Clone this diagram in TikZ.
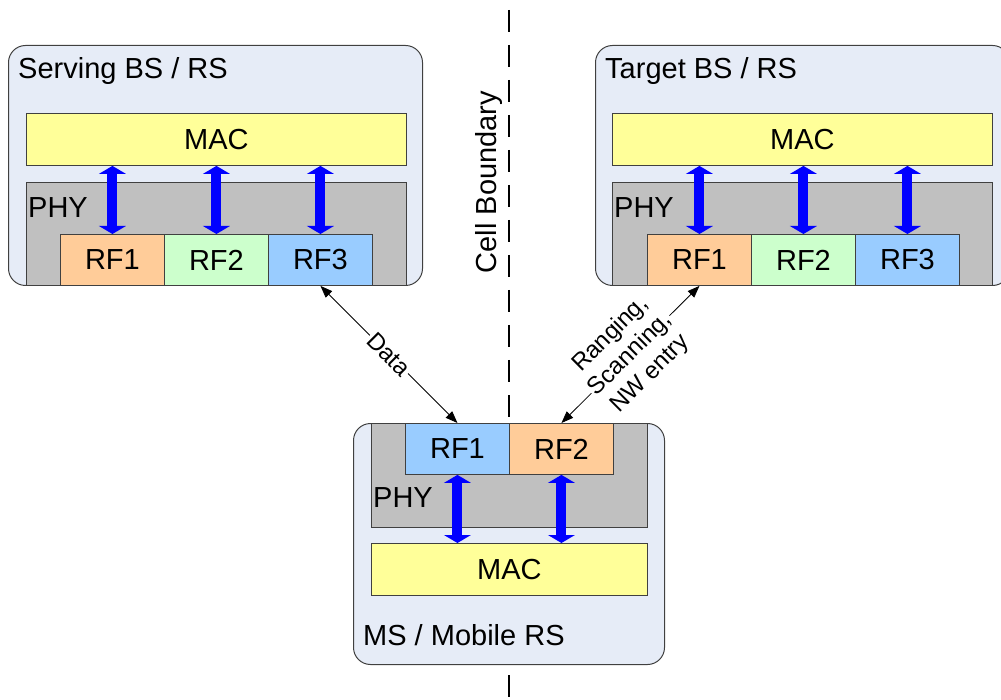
\documentclass[tikz,border=0pt]{standalone}
\usepackage{fontspec}
\setmainfont{Liberation Sans}
\usetikzlibrary{arrows.meta,calc}
\definecolor{boxbg}{HTML}{E6ECF7}
\definecolor{macfill}{HTML}{FFFF99}
\definecolor{phyfill}{HTML}{C0C0C0}
\definecolor{rforange}{HTML}{FFCC99}
\definecolor{rfgreen}{HTML}{CCFFCC}
\definecolor{rfblue}{HTML}{99CCFF}
\definecolor{edgegray}{HTML}{404040}
\begin{document}
\begin{tikzpicture}[x=1pt,y=-1pt,
  bigfont/.style={font=\fontsize{29}{34}\selectfont},
  smallfont/.style={font=\fontsize{24}{28}\selectfont},
  outerbox/.style={draw=edgegray, fill=boxbg, rounded corners=17pt, line width=1pt},
  layerbox/.style={draw=edgegray, line width=0.9pt, inner sep=0pt, anchor=north west, bigfont},
  macbox/.style={layerbox, fill=macfill, minimum width=380pt, minimum height=52pt},
  phybox/.style={layerbox, fill=phyfill},
  rfbox/.style={layerbox, minimum width=104pt, minimum height=51pt},
  boxlabel/.style={anchor=west, inner sep=0pt, bigfont},
  bigarrow/.style={draw=blue, line width=10pt,
    {Triangle[length=8pt,width=27pt,line width=0pt]}-{Triangle[length=8pt,width=27pt,line width=0pt]}},
  linkarrow/.style={draw=black, line width=0.8pt,
    {Triangle[length=12pt,width=9pt]}-{Triangle[length=12pt,width=9pt]}},
  linklabel/.style={smallfont, fill=white, inner sep=1.5pt, sloped, align=center},
  boundary/.style={line width=2.7pt, dash pattern=on 22pt off 13pt}
]
\useasboundingbox (0,0) rectangle (1001,700);
\clip (0,0) rectangle (1001,700);

% cell boundary
\coordinate (btop) at (509,10);
\coordinate (bbot) at (509,700);
\draw[boundary] (btop) -- (bbot);
\node[bigfont, rotate=90, inner sep=0pt] (cellb) at (489,182) {Cell Boundary};

% ---------- Serving BS / RS ----------
\node[outerbox, anchor=north west, minimum width=414pt, minimum height=240pt, inner sep=0pt] (outerL) at (8,45) {};
\node[boxlabel] (labL) at (18,71) {Serving BS / RS};
\node[macbox] (macL) at (26,113) {MAC};
\node[phybox, minimum width=380pt, minimum height=103pt] (phyL) at (26,182) {};
\node[boxlabel] (phylabL) at (28,208) {PHY};
\node[rfbox, fill=rforange] (rf1L) at (60,234) {RF1};
\node[rfbox, fill=rfgreen] (rf2L) at (164,234) {RF2};
\node[rfbox, fill=rfblue] (rf3L) at (268,234) {RF3};
\draw[bigarrow] (rf1L.north) -- (rf1L.north |- macL.south);
\draw[bigarrow] (rf2L.north) -- (rf2L.north |- macL.south);
\draw[bigarrow] (rf3L.north) -- (rf3L.north |- macL.south);

% ---------- Target BS / RS ----------
\node[outerbox, anchor=north west, minimum width=414pt, minimum height=240pt, inner sep=0pt] (outerR) at (595,45) {};
\node[boxlabel] (labR) at (605,71) {Target BS / RS};
\node[macbox] (macR) at (612,113) {MAC};
\node[phybox, minimum width=380pt, minimum height=103pt] (phyR) at (612,182) {};
\node[boxlabel] (phylabR) at (614,208) {PHY};
\node[rfbox, fill=rforange] (rf1R) at (647,234) {RF1};
\node[rfbox, fill=rfgreen] (rf2R) at (751,234) {RF2};
\node[rfbox, fill=rfblue] (rf3R) at (855,234) {RF3};
\draw[bigarrow] (rf1R.north) -- (rf1R.north |- macR.south);
\draw[bigarrow] (rf2R.north) -- (rf2R.north |- macR.south);
\draw[bigarrow] (rf3R.north) -- (rf3R.north |- macR.south);

% ---------- MS / Mobile RS ----------
\node[outerbox, anchor=north west, minimum width=311pt, minimum height=241pt, inner sep=0pt] (outerM) at (353,423) {};
\node[phybox, minimum width=276pt, minimum height=104pt] (phyM) at (371,423) {};
\node[boxlabel] (phylabM) at (373,498) {PHY};
\node[rfbox, fill=rfblue] (rf1M) at (405,423) {RF1};
\node[rfbox, fill=rforange] (rf2M) at (509,423) {RF2};
\node[macbox, minimum width=276pt] (macM) at (371,543) {MAC};
\node[boxlabel] (labM) at (363,635) {MS / Mobile RS};
\draw[bigarrow] (rf1M.south) -- (rf1M.south |- macM.north);
\draw[bigarrow] (rf2M.south) -- (rf2M.south |- macM.north);

% ---------- links ----------
\draw[linkarrow] (rf3L.south) -- (rf1M.north)
  node[linklabel, midway] (datalab) {Data};
\draw[linkarrow] (rf1R.south) -- (rf2M.north)
  node[linklabel, midway] (ranglab) {Ranging,\\Scanning,\\NW entry};
\end{tikzpicture}
\end{document}
